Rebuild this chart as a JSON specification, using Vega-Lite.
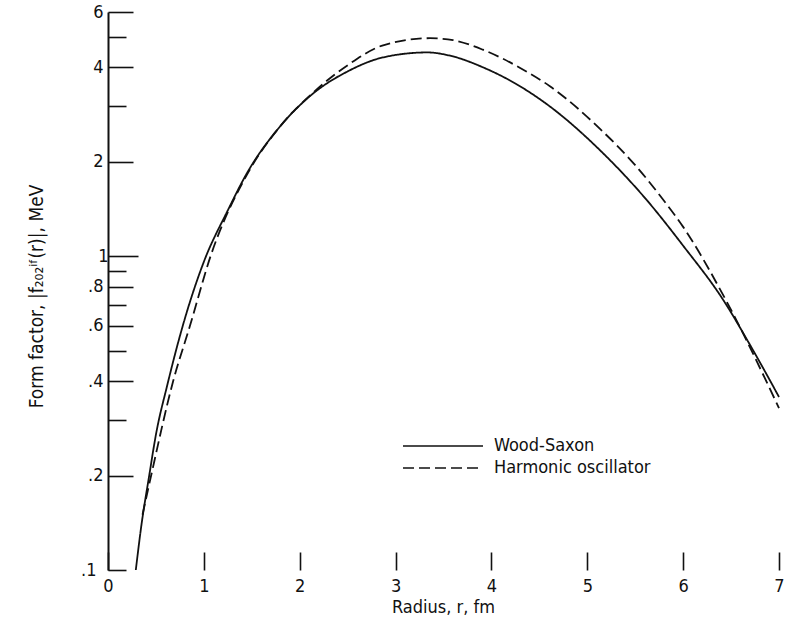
{
  "$schema": "https://vega.github.io/schema/vega-lite/v6.json",
  "width": 671,
  "height": 558,
  "autosize": {"type": "none"},
  "padding": {"left": 108, "top": 12, "right": 12, "bottom": 58},
  "background": "white",
  "config": {
    "view": {"stroke": null},
    "font": "Liberation Sans Narrow, DejaVu Sans Condensed, sans-serif",
    "axis": {
      "grid": false,
      "labelFont": "Liberation Sans Narrow, DejaVu Sans Condensed, sans-serif",
      "titleFont": "Liberation Sans Narrow, DejaVu Sans Condensed, sans-serif",
      "labelFontSize": 18,
      "titleFontSize": 18,
      "titleFontWeight": "normal",
      "labelColor": "#111",
      "titleColor": "#111",
      "tickColor": "#111",
      "domainColor": "#111",
      "tickWidth": 1.6,
      "labelFlush": false
    }
  },
  "datasets": {
    "curves": [
      {"model": "Wood-Saxon", "r": 0.29, "f": 0.1},
      {"model": "Wood-Saxon", "r": 0.35, "f": 0.14},
      {"model": "Wood-Saxon", "r": 0.43, "f": 0.2},
      {"model": "Wood-Saxon", "r": 0.5, "f": 0.27},
      {"model": "Wood-Saxon", "r": 0.62, "f": 0.39},
      {"model": "Wood-Saxon", "r": 0.78, "f": 0.6},
      {"model": "Wood-Saxon", "r": 1.0, "f": 0.96},
      {"model": "Wood-Saxon", "r": 1.25, "f": 1.4},
      {"model": "Wood-Saxon", "r": 1.45, "f": 1.84},
      {"model": "Wood-Saxon", "r": 1.79, "f": 2.58},
      {"model": "Wood-Saxon", "r": 2.14, "f": 3.3},
      {"model": "Wood-Saxon", "r": 2.5, "f": 3.88},
      {"model": "Wood-Saxon", "r": 2.87, "f": 4.3},
      {"model": "Wood-Saxon", "r": 3.33, "f": 4.46},
      {"model": "Wood-Saxon", "r": 3.6, "f": 4.33},
      {"model": "Wood-Saxon", "r": 3.91, "f": 4.0},
      {"model": "Wood-Saxon", "r": 4.25, "f": 3.55},
      {"model": "Wood-Saxon", "r": 4.61, "f": 3.0},
      {"model": "Wood-Saxon", "r": 5.13, "f": 2.18},
      {"model": "Wood-Saxon", "r": 5.62, "f": 1.51},
      {"model": "Wood-Saxon", "r": 6.0, "f": 1.08},
      {"model": "Wood-Saxon", "r": 6.42, "f": 0.724},
      {"model": "Wood-Saxon", "r": 6.7, "f": 0.52},
      {"model": "Wood-Saxon", "r": 7.0, "f": 0.356},
      {"model": "Harmonic oscillator", "r": 0.36, "f": 0.15},
      {"model": "Harmonic oscillator", "r": 0.45, "f": 0.2},
      {"model": "Harmonic oscillator", "r": 0.68, "f": 0.4},
      {"model": "Harmonic oscillator", "r": 0.855, "f": 0.6},
      {"model": "Harmonic oscillator", "r": 1.07, "f": 1.0},
      {"model": "Harmonic oscillator", "r": 1.45, "f": 1.82},
      {"model": "Harmonic oscillator", "r": 1.79, "f": 2.58},
      {"model": "Harmonic oscillator", "r": 2.14, "f": 3.32},
      {"model": "Harmonic oscillator", "r": 2.52, "f": 4.1},
      {"model": "Harmonic oscillator", "r": 2.87, "f": 4.7},
      {"model": "Harmonic oscillator", "r": 3.36, "f": 4.95},
      {"model": "Harmonic oscillator", "r": 3.6, "f": 4.88},
      {"model": "Harmonic oscillator", "r": 3.91, "f": 4.55},
      {"model": "Harmonic oscillator", "r": 4.3, "f": 3.98},
      {"model": "Harmonic oscillator", "r": 4.61, "f": 3.48},
      {"model": "Harmonic oscillator", "r": 5.13, "f": 2.55},
      {"model": "Harmonic oscillator", "r": 5.5, "f": 1.95},
      {"model": "Harmonic oscillator", "r": 5.78, "f": 1.53},
      {"model": "Harmonic oscillator", "r": 6.0, "f": 1.24},
      {"model": "Harmonic oscillator", "r": 6.44, "f": 0.73},
      {"model": "Harmonic oscillator", "r": 7.0, "f": 0.328}
    ]
  },
  "layer": [
    {
      "data": {"name": "curves"},
      "mark": {"type": "line", "interpolate": "monotone", "color": "#111", "strokeWidth": 1.8, "clip": false},
      "encoding": {
        "x": {
          "field": "r",
          "type": "quantitative",
          "scale": {"domain": [0, 7], "nice": false, "zero": false},
          "axis": {
            "title": "Radius, r, fm",
            "values": [0, 1, 2, 3, 4, 5, 6, 7],
            "format": "d",
            "domain": false,
            "tickSize": -18,
            "labelPadding": 25,
            "labelAngle": 0,
            "titleX": 335,
            "titleY": 37,
            "titleAlign": "center",
            "titleBaseline": "middle"
          }
        },
        "y": {
          "field": "f",
          "type": "quantitative",
          "scale": {"type": "log", "domain": [0.1, 6], "nice": false},
          "axis": {
            "title": "Form factor, |f₂₀₂ⁱᶠ(r)|, MeV",
            "titleFontSize": 19,
            "values": [0.1, 0.2, 0.3, 0.4, 0.5, 0.6, 0.7, 0.8, 0.9, 1, 2, 3, 4, 5, 6],
            "labelExpr": "indexof([6, 4, 2, 1, 0.8, 0.6, 0.4, 0.2, 0.1], datum.value) >= 0 ? (datum.value < 1 ? '.' + format(datum.value * 10, 'd') : format(datum.value, 'd')) : ''",
            "domainWidth": 2,
            "tickSize": {
              "condition": [
                {"test": "datum.value == 1", "value": -30},
                {"test": "indexof([6, 4, 2, 0.8, 0.6, 0.4, 0.2], datum.value) >= 0", "value": -25}
              ],
              "value": -18
            },
            "labelPadding": 30,
            "titleX": -72,
            "titleY": 284,
            "titleAngle": -90,
            "titleAlign": "center",
            "titleBaseline": "middle"
          }
        },
        "strokeDash": {
          "field": "model",
          "type": "nominal",
          "scale": {"domain": ["Wood-Saxon", "Harmonic oscillator"], "range": [[1, 0], [11, 5]]},
          "legend": {
            "title": null,
            "orient": "none",
            "legendX": 324,
            "legendY": 423,
            "padding": 0,
            "symbolType": "M-4,0H4",
            "symbolSize": 400,
            "symbolStrokeWidth": 1.6,
            "symbolStrokeColor": "#111",
            "symbolFillColor": "transparent",
            "rowPadding": 2,
            "labelOffset": 40,
            "labelFontSize": 18,
            "labelColor": "#111",
            "labelFont": "Liberation Sans Narrow, DejaVu Sans Condensed, sans-serif"
          }
        }
      }
    },
    {
      "mark": {"type": "rule", "color": "#111", "strokeWidth": 1.6},
      "encoding": {
        "x": {"datum": 0},
        "x2": {"datum": 1.85},
        "y": {"datum": 0.1}
      }
    }
  ]
}
